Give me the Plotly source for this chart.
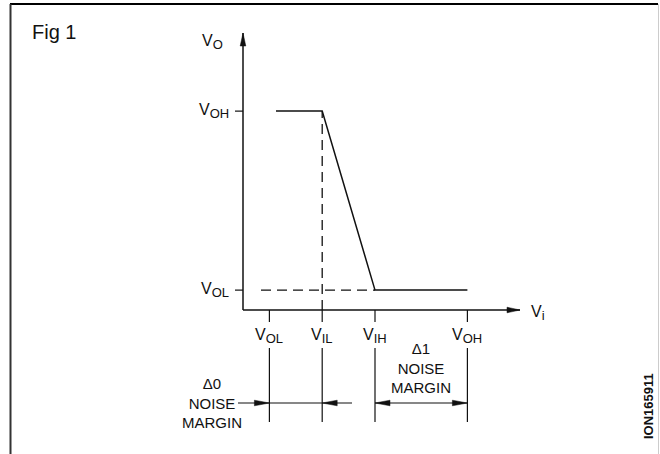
import plotly.graph_objects as go

# ---------------- data (schematic, arbitrary volts) ----------------
vi_levels = [0.4, 1.2, 2.0, 3.4]          # input-axis levels: V_OL, V_IL, V_IH, V_OH
vi_subs = ["OL", "IL", "IH", "OH"]
vo_levels = [0.4, 4.0]                   # output-axis levels: V_OL, V_OH
vo_subs = ["OL", "OH"]
curve_vi = [0.5, 1.2, 2.0, 3.4]           # transfer characteristic
curve_vo = [4.0, 4.0, 0.4, 0.4]

# ---------------- layout constants ----------------
W, H = 660, 454
OX, OY = 243, 310          # pixel position of the axes origin
SX, SY = 66.0, 49.72       # pixels per volt
FONT = "Liberation Sans, Arial, sans-serif"
INK = "#111111"

def X(p):   # pixel column -> data x
    return (p - OX) / SX

def Y(p):   # pixel row -> data y
    return (OY - p) / SY

def dx(p):
    return p / SX

def dy(p):
    return p / SY

fig = go.Figure()

def line(xs, ys, width=1.4, dash=None, color=INK):
    fig.add_trace(go.Scatter(x=xs, y=ys, mode="lines", hoverinfo="skip",
                             line=dict(color=color, width=width, dash=dash),
                             showlegend=False))

def head(tx, ty, d, L=13, w=2.8):
    if d == "right":
        xs = [tx, tx - dx(L), tx - dx(L), tx]
        ys = [ty, ty + dy(w), ty - dy(w), ty]
    elif d == "left":
        xs = [tx, tx + dx(L), tx + dx(L), tx]
        ys = [ty, ty + dy(w), ty - dy(w), ty]
    else:  # up
        xs = [tx, tx - dx(w), tx + dx(w), tx]
        ys = [ty, ty - dy(L), ty - dy(L), ty]
    fig.add_trace(go.Scatter(x=xs, y=ys, mode="lines", fill="toself",
                             fillcolor=INK, line=dict(color=INK, width=0.5),
                             hoverinfo="skip", showlegend=False))

def sub_label(main, sub, subsize=13):
    return f"{main}<sub><span style='font-size:{subsize}px'>{sub}</span></sub>"

# axes
x_end = X(520)
y_end = Y(33)
line([0, x_end], [0, 0], width=1.5)
line([0, 0], [0, y_end], width=1.5)
head(x_end, 0, "right")
head(0, y_end, "up")

# dashed guides
line([vi_levels[1], vi_levels[1]], [0, vo_levels[1]], width=1.3, dash="10px,6px")
line([X(261), vi_levels[2]], [vo_levels[0], vo_levels[0]], width=1.3, dash="10px,6px")

# transfer curve
line(curve_vi, curve_vo, width=1.5)

# y ticks
for v in vo_levels:
    line([-dx(8), 0], [v, v], width=1.2)

# x ticks and noise-margin drop lines
for v in vi_levels:
    line([v, v], [0, -dy(12)], width=1.2)
    line([v, v], [Y(348), Y(422)], width=1.2)

# noise margin arrows
ym = Y(403)
line([X(238), X(352)], [ym, ym], width=1.2)
head(vi_levels[0], ym, "right", L=15)
head(vi_levels[1], ym, "left", L=15)
line([vi_levels[2], vi_levels[3]], [ym, ym], width=1.2)
head(vi_levels[2], ym, "left", L=15)
head(vi_levels[3], ym, "right", L=15)

ann = []
# x tick labels
for v, s in zip(vi_levels, vi_subs):
    ann.append(dict(x=v, y=Y(336), text=sub_label("V", s), xanchor="center",
                    yanchor="middle", font=dict(size=16)))
# y tick labels
for v, s in zip(vo_levels, vo_subs):
    ann.append(dict(x=X(231), y=v, text=sub_label("V", s), xanchor="right",
                    yanchor="middle", font=dict(size=16)))
# axis titles
ann.append(dict(x=X(225), y=Y(42), text=sub_label("V", "O"), xanchor="right",
                yanchor="middle", font=dict(size=16)))
ann.append(dict(x=X(529), y=Y(313), text=sub_label("V", "i"), xanchor="left",
                yanchor="middle", font=dict(size=16)))
# noise margin texts
ann.append(dict(x=X(212), y=Y(403), text="Δ0<br>NOISE<br>MARGIN", xanchor="center",
                yanchor="middle", font=dict(size=15)))
ann.append(dict(x=X(421), y=Y(368), text="Δ1<br>NOISE<br>MARGIN", xanchor="center",
                yanchor="middle", font=dict(size=15)))
for a in ann:
    a.update(xref="x", yref="y", showarrow=False)

ann.append(dict(xref="paper", yref="paper", x=30 / W, y=1 - 32 / H, text="Fig 1",
                xanchor="left", yanchor="middle", showarrow=False, font=dict(size=20)))
ann.append(dict(xref="paper", yref="paper", x=648 / W, y=1 - 406 / H, text="<b>ION165911</b>",
                textangle=-90, xanchor="center", yanchor="middle", showarrow=False,
                font=dict(size=13)))

# frame
shapes = [
    dict(type="line", xref="paper", yref="paper", x0=10 / W, x1=658 / W, y0=1 - 4 / H, y1=1 - 4 / H,
         line=dict(color="#000000", width=2)),
    dict(type="line", xref="paper", yref="paper", x0=10.5 / W, x1=10.5 / W, y0=1 - 4 / H, y1=0,
         line=dict(color="#333333", width=2)),
    dict(type="line", xref="paper", yref="paper", x0=658.5 / W, x1=658.5 / W, y0=1 - 4 / H, y1=0,
         line=dict(color="#cccccc", width=1)),
]

fig.update_layout(
    width=W, height=H, margin=dict(l=0, r=0, t=0, b=0),
    paper_bgcolor="white", plot_bgcolor="white",
    font=dict(family=FONT, color=INK),
    xaxis=dict(range=[X(0), X(W)], visible=False, fixedrange=True),
    yaxis=dict(range=[Y(H), Y(0)], visible=False, fixedrange=True),
    annotations=ann, shapes=shapes, showlegend=False,
)
fig.write_html("out.html", config={"displayModeBar": False},
               post_script="document.body.style.margin='0';document.body.style.overflow='hidden';")
